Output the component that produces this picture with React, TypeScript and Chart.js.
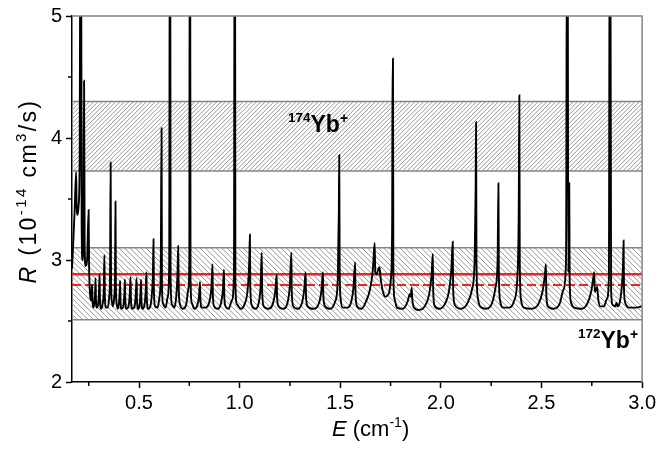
import React, { useEffect, useRef } from "react";
import { Chart, registerables } from "chart.js";

Chart.register(...registerables);

// ---- data ----
const xMin = 0.167;
const xMax = 3.0;
const yMin = 2;
const yMax = 5;
const xMinorTicks = [0.25, 0.75, 1.25, 1.75, 2.25, 2.75];
const yMinorTicks = [2.5, 3.5, 4.5];
const band174 = [3.73, 4.3];
const band172 = [2.51, 3.1];
const rateSolid = 2.884;
const rateDashed = 2.795;

// [E (cm^-1), R (1e-14 cm^3/s)] points
const curve: [number, number][] = [
  [0.167, 2.93], [0.172, 3.1], [0.18, 3.4], [0.1875, 3.72], [0.19, 3.45], [0.195, 3.37],
  [0.2, 3.45], [0.205, 3.8], [0.209, 6.0], [0.212, 6.0], [0.215, 3.3], [0.219, 3.0],
  [0.223, 3.2], [0.227, 4.47], [0.23, 3.1], [0.235, 2.95], [0.242, 3.0], [0.2495, 3.41],
  [0.252, 2.95], [0.256, 2.74], [0.26, 2.67], [0.264, 2.7], [0.267, 2.8], [0.269, 2.67],
  [0.274, 2.61], [0.279, 2.66], [0.282, 2.74], [0.284, 2.85], [0.286, 2.68], [0.291, 2.61],
  [0.297, 2.64], [0.301, 2.73], [0.304, 2.88], [0.306, 2.68], [0.312, 2.6], [0.32, 2.65],
  [0.325, 2.76], [0.328, 3.04], [0.33, 2.72], [0.336, 2.61], [0.345, 2.61], [0.352, 2.7],
  [0.356, 2.88], [0.359, 3.8], [0.361, 2.85], [0.365, 2.66], [0.37, 2.62], [0.377, 2.7],
  [0.381, 2.9], [0.383, 3.48], [0.385, 2.8], [0.389, 2.64], [0.395, 2.6], [0.401, 2.66],
  [0.404, 2.74], [0.406, 2.83], [0.408, 2.67], [0.413, 2.6], [0.422, 2.62], [0.427, 2.72],
  [0.43, 2.84], [0.432, 2.67], [0.438, 2.6], [0.448, 2.62], [0.454, 2.72], [0.458, 2.86],
  [0.46, 2.67], [0.467, 2.6], [0.478, 2.62], [0.484, 2.72], [0.488, 2.85], [0.49, 2.67],
  [0.496, 2.6], [0.503, 2.63], [0.507, 2.72], [0.51, 2.84], [0.512, 2.67], [0.518, 2.6],
  [0.527, 2.63], [0.533, 2.74], [0.537, 2.9], [0.539, 2.68], [0.545, 2.6], [0.556, 2.62],
  [0.564, 2.72], [0.569, 2.88], [0.572, 3.17], [0.574, 2.75], [0.58, 2.62], [0.592, 2.61],
  [0.602, 2.7], [0.608, 2.9], [0.612, 4.08], [0.614, 2.8], [0.62, 2.64], [0.632, 2.61],
  [0.643, 2.7], [0.65, 2.95], [0.653, 6.0], [0.655, 6.0], [0.657, 2.85], [0.663, 2.64],
  [0.675, 2.61], [0.685, 2.7], [0.691, 2.88], [0.695, 3.12], [0.697, 2.8], [0.703, 2.64],
  [0.718, 2.6], [0.735, 2.64], [0.745, 2.76], [0.75, 3.0], [0.752, 6.0], [0.754, 6.0],
  [0.756, 2.85], [0.762, 2.65], [0.775, 2.6], [0.79, 2.63], [0.798, 2.7], [0.803, 2.82],
  [0.805, 2.68], [0.812, 2.61], [0.83, 2.61], [0.85, 2.66], [0.86, 2.78], [0.865, 2.965],
  [0.867, 2.72], [0.873, 2.62], [0.89, 2.6], [0.908, 2.65], [0.917, 2.76], [0.922, 2.92],
  [0.924, 2.7], [0.93, 2.62], [0.945, 2.6], [0.962, 2.67], [0.972, 2.9], [0.975, 6.0],
  [0.977, 6.0], [0.979, 2.82], [0.986, 2.64], [1.005, 2.6], [1.025, 2.64], [1.04, 2.76],
  [1.048, 3.0], [1.051, 3.21], [1.053, 2.78], [1.06, 2.63], [1.078, 2.6], [1.095, 2.65],
  [1.104, 2.78], [1.11, 3.06], [1.112, 2.74], [1.12, 2.62], [1.142, 2.6], [1.165, 2.64],
  [1.177, 2.74], [1.184, 2.88], [1.186, 2.7], [1.194, 2.62], [1.215, 2.6], [1.238, 2.65],
  [1.25, 2.8], [1.257, 3.06], [1.259, 2.74], [1.267, 2.62], [1.288, 2.6], [1.31, 2.65],
  [1.321, 2.76], [1.328, 2.9], [1.33, 2.7], [1.338, 2.62], [1.365, 2.6], [1.395, 2.65],
  [1.407, 2.76], [1.414, 2.9], [1.416, 2.7], [1.425, 2.62], [1.45, 2.6], [1.475, 2.66],
  [1.488, 2.85], [1.493, 3.4], [1.495, 3.86], [1.497, 2.95], [1.502, 2.68], [1.512, 2.61],
  [1.535, 2.61], [1.555, 2.66], [1.566, 2.78], [1.574, 2.98], [1.576, 2.72], [1.584, 2.62],
  [1.605, 2.6], [1.628, 2.66], [1.648, 2.76], [1.662, 2.92], [1.671, 3.14], [1.674, 2.9],
  [1.68, 2.88], [1.69, 2.93], [1.695, 2.94], [1.7, 2.86], [1.712, 2.74], [1.725, 2.7],
  [1.74, 2.72], [1.752, 2.85], [1.758, 3.3], [1.76, 4.65], [1.762, 4.65], [1.764, 2.9],
  [1.77, 2.68], [1.782, 2.61], [1.81, 2.6], [1.835, 2.66], [1.845, 2.72], [1.85, 2.7],
  [1.855, 2.77], [1.858, 2.68], [1.866, 2.61], [1.89, 2.59], [1.92, 2.62], [1.942, 2.72],
  [1.954, 2.88], [1.96, 3.05], [1.962, 2.74], [1.97, 2.62], [1.995, 2.6], [2.02, 2.64],
  [2.04, 2.74], [2.052, 2.92], [2.059, 3.15], [2.061, 2.76], [2.07, 2.63], [2.1, 2.6],
  [2.13, 2.64], [2.155, 2.76], [2.168, 3.0], [2.173, 3.6], [2.175, 4.13], [2.177, 3.0],
  [2.183, 2.7], [2.195, 2.62], [2.225, 2.6], [2.255, 2.65], [2.272, 2.78], [2.282, 3.0],
  [2.286, 3.63], [2.288, 2.9], [2.295, 2.66], [2.31, 2.61], [2.34, 2.61], [2.365, 2.67],
  [2.38, 2.85], [2.387, 3.4], [2.39, 4.35], [2.392, 3.0], [2.398, 2.68], [2.412, 2.61],
  [2.45, 2.6], [2.485, 2.64], [2.505, 2.74], [2.517, 2.88], [2.522, 2.965], [2.524, 2.72],
  [2.532, 2.62], [2.56, 2.6], [2.59, 2.64], [2.61, 2.76], [2.622, 3.0], [2.627, 6.0],
  [2.63, 6.0], [2.633, 2.9], [2.636, 3.2], [2.638, 3.63], [2.64, 2.85], [2.646, 2.66],
  [2.662, 2.61], [2.7, 2.6], [2.73, 2.65], [2.748, 2.75], [2.757, 2.85], [2.762, 2.9],
  [2.765, 2.74], [2.772, 2.76], [2.777, 2.78], [2.782, 2.68], [2.792, 2.62], [2.81, 2.62],
  [2.825, 2.68], [2.835, 2.85], [2.839, 6.0], [2.842, 6.0], [2.846, 2.75], [2.855, 2.63],
  [2.866, 2.62], [2.873, 2.65], [2.878, 2.62], [2.89, 2.66], [2.9, 2.8], [2.905, 2.95],
  [2.908, 3.16], [2.91, 2.76], [2.918, 2.64], [2.935, 2.61], [2.97, 2.61], [3.0, 2.62],
];

const FONT = "Arial, 'Liberation Sans', Helvetica, sans-serif";

type Part = { t: string; font: string; dy?: number };

function drawRich(ctx: CanvasRenderingContext2D, x: number, y: number, parts: Part[], spacing = 0) {
  let cx = x;
  for (const p of parts) {
    ctx.font = p.font;
    if (spacing === 0) {
      ctx.fillText(p.t, cx, y + (p.dy || 0));
      cx += ctx.measureText(p.t).width;
    } else {
      for (const ch of p.t) {
        ctx.fillText(ch, cx, y + (p.dy || 0));
        cx += ctx.measureText(ch).width + spacing;
      }
    }
  }
  return cx - x;
}

function richWidth(ctx: CanvasRenderingContext2D, parts: Part[], spacing = 0) {
  let w = 0;
  for (const p of parts) {
    ctx.font = p.font;
    for (const ch of p.t) w += ctx.measureText(ch).width + spacing;
  }
  return w;
}

function drawBand(ctx: CanvasRenderingContext2D, area: any, yScale: any, band: number[], dir: number, step: number) {
  const top = yScale.getPixelForValue(band[1]);
  const bottom = yScale.getPixelForValue(band[0]);
  const h = bottom - top;
  ctx.save();
  ctx.beginPath();
  ctx.rect(area.left, top, area.right - area.left, h);
  ctx.clip();
  ctx.strokeStyle = "#969696";
  ctx.lineWidth = 1;
  ctx.beginPath();
  for (let x0 = area.left - h - step; x0 < area.right + h + step; x0 += step) {
    if (dir > 0) {
      ctx.moveTo(x0, bottom);
      ctx.lineTo(x0 + h, top);
    } else {
      ctx.moveTo(x0, top);
      ctx.lineTo(x0 + h, bottom);
    }
  }
  ctx.stroke();
  ctx.restore();
  ctx.save();
  ctx.strokeStyle = "#858585";
  ctx.lineWidth = 1.5;
  ctx.beginPath();
  ctx.moveTo(area.left, top);
  ctx.lineTo(area.right, top);
  ctx.moveTo(area.left, bottom);
  ctx.lineTo(area.right, bottom);
  ctx.stroke();
  ctx.restore();
}

const decorPlugin = {
  id: "decor",
  beforeDatasetsDraw(chart: any) {
    const { ctx, chartArea, scales } = chart;
    drawBand(ctx, chartArea, scales.y, band174, 1, 4.4);
    drawBand(ctx, chartArea, scales.y, band172, -1, 5.4);
  },
  afterDatasetsDraw(chart: any) {
    const { ctx, chartArea: a, scales } = chart;
    const xs = scales.x;
    const ys = scales.y;
    ctx.save();
    // top and right frame
    ctx.strokeStyle = "#858585";
    ctx.lineWidth = 1.5;
    ctx.beginPath();
    ctx.moveTo(a.left, a.top);
    ctx.lineTo(a.right, a.top);
    ctx.lineTo(a.right, a.bottom);
    ctx.stroke();
    // minor ticks
    ctx.strokeStyle = "#000";
    ctx.lineWidth = 1.5;
    ctx.beginPath();
    for (const v of xMinorTicks) {
      const px = xs.getPixelForValue(v);
      ctx.moveTo(px, a.bottom);
      ctx.lineTo(px, a.bottom + 4);
    }
    for (const v of yMinorTicks) {
      const py = ys.getPixelForValue(v);
      ctx.moveTo(a.left, py);
      ctx.lineTo(a.left - 4, py);
    }
    ctx.stroke();

    ctx.fillStyle = "#000";
    ctx.textBaseline = "alphabetic";
    ctx.textAlign = "left";

    // x axis title
    const xt: Part[] = [
      { t: "E", font: `italic 22px ${FONT}` },
      { t: " (cm", font: `22px ${FONT}` },
      { t: "-1", font: `14px ${FONT}`, dy: -9 },
      { t: ")", font: `22px ${FONT}` },
    ];
    drawRich(ctx, 332, 436, xt);

    // y axis title
    const yt: Part[] = [
      { t: "R", font: `italic 23px ${FONT}` },
      { t: " (10", font: `23px ${FONT}` },
      { t: "-14", font: `15px ${FONT}`, dy: -10 },
      { t: " cm", font: `23px ${FONT}` },
      { t: "3", font: `15px ${FONT}`, dy: -10 },
      { t: "/s)", font: `23px ${FONT}` },
    ];
    const sp = 2.4;
    const yw = richWidth(ctx, yt, sp);
    ctx.save();
    ctx.translate(36, 191 + yw / 2);
    ctx.rotate(-Math.PI / 2);
    drawRich(ctx, 0, 0, yt, sp);
    ctx.restore();

    // band labels
    const lab = (iso: string): Part[] => [
      { t: iso, font: `bold 13.5px ${FONT}`, dy: -10 },
      { t: "Yb", font: `bold 23px ${FONT}` },
      { t: "+", font: `bold 14px ${FONT}`, dy: -9 },
    ];
    drawRich(ctx, 288, 132, lab("174"));
    drawRich(ctx, 578, 348, lab("172"));
    ctx.restore();
  },
};

export default function App() {
  const ref = useRef<HTMLCanvasElement | null>(null);
  useEffect(() => {
    document.body.style.margin = "0";
    const canvas = ref.current;
    if (!canvas) return;
    const chart = new Chart(canvas, {
      type: "line",
      data: {
        datasets: [
          {
            data: curve.map(([x, y]) => ({ x, y })),
            borderColor: "#000",
            borderWidth: 1.9,
            pointRadius: 0,
            cubicInterpolationMode: "monotone",
            fill: false,
            order: 0,
          },
          {
            data: [{ x: xMin, y: rateSolid }, { x: xMax, y: rateSolid }],
            borderColor: "#ee2424",
            borderWidth: 2.5,
            pointRadius: 0,
            fill: false,
            order: 1,
          },
          {
            data: [{ x: xMin, y: rateDashed }, { x: xMax, y: rateDashed }],
            borderColor: "#ee2424",
            borderWidth: 2,
            borderDash: [9, 4],
            pointRadius: 0,
            fill: false,
            order: 1,
          },
        ],
      },
      options: {
        animation: false,
        responsive: false,
        devicePixelRatio: 1,
        layout: { padding: { top: 13, right: 16, left: 0, bottom: 0 } },
        plugins: { legend: { display: false }, tooltip: { enabled: false } },
        scales: {
          x: {
            type: "linear",
            min: xMin,
            max: xMax,
            afterFit: (s: any) => {
              s.height = 67;
            },
            ticks: {
              stepSize: 0.5,
              includeBounds: false,
              maxRotation: 0,
              autoSkip: false,
              padding: 3,
              color: "#000",
              font: { family: FONT, size: 20 },
              callback: (v: any) => Number(v).toFixed(1),
            },
            grid: {
              drawOnChartArea: false,
              drawTicks: true,
              tickLength: 6,
              tickColor: "#000",
              tickWidth: 1.5,
            },
            border: { display: true, color: "#000", width: 1.5 },
          },
          y: {
            min: yMin,
            max: yMax,
            afterFit: (s: any) => {
              s.width = 72;
            },
            ticks: {
              stepSize: 1,
              padding: 4,
              color: "#000",
              font: { family: FONT, size: 20 },
              callback: (v: any) => String(v),
            },
            grid: {
              drawOnChartArea: false,
              drawTicks: true,
              tickLength: 6,
              tickColor: "#000",
              tickWidth: 1.5,
            },
            border: { display: true, color: "#000", width: 1.5 },
          },
        },
      },
      plugins: [decorPlugin],
    } as any);
    return () => chart.destroy();
  }, []);
  return (
    <div style={{ position: "fixed", left: 0, top: 0, width: 659, height: 449, background: "#fff" }}>
      <canvas ref={ref} width={659} height={449} style={{ width: 659, height: 449, display: "block" }} />
    </div>
  );
}
